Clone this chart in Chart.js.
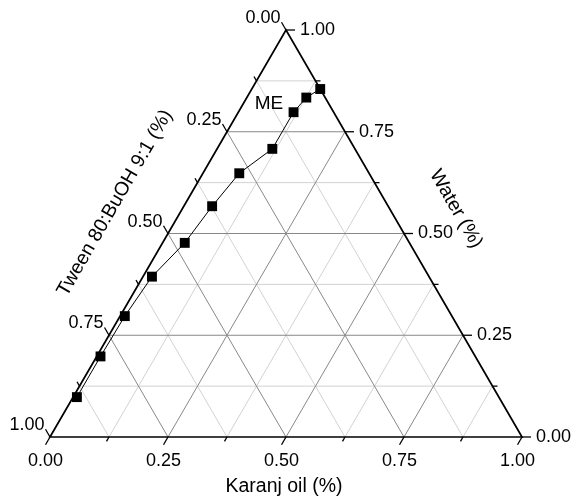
<!DOCTYPE html>
<html>
<head>
<meta charset="utf-8">
<script src="https://cdn.jsdelivr.net/npm/chart.js@4/dist/chart.umd.min.js"></script>
<style>
  html, body { margin: 0; padding: 0; background: #ffffff; }
  #wrap { width: 573px; height: 503px; }
</style>
</head>
<body>
<div id="wrap"><canvas id="c" width="573" height="503"></canvas></div>
<script>
// Phase boundary of the microemulsion (ME) region, as fractions
const oilFrac   = [0.145, 0.126, 0.117, 0.117, 0.077, 0.060, 0.047, 0.019, 0.010, 0.008, 0.008];
const waterFrac = [0.855, 0.834, 0.798, 0.708, 0.648, 0.567, 0.477, 0.394, 0.297, 0.198, 0.098];
const smixFrac  = [0.000, 0.040, 0.085, 0.175, 0.275, 0.373, 0.476, 0.587, 0.693, 0.794, 0.894];

// Axis ticks
const majorTicks = [0, 0.25, 0.5, 0.75, 1];
const majorTickLabels = ['0.00', '0.25', '0.50', '0.75', '1.00'];
const minorTicks = [0.125, 0.375, 0.625, 0.875];

const bottomTitle = 'Karanj oil (%)';
const rightTitle = 'Water (%)';
const leftTitle = 'Tween 80:BuOH 9:1 (%)';
const regionLabel = 'ME';

const S = Math.sqrt(3) / 2;
const FONT = '"Liberation Sans", Arial, Helvetica, sans-serif';

// Ternary (oil, water, smix) -> cartesian; oil runs along the base, water to the apex
function toXY(oil, water, smix) {
  const sum = oil + water + smix;
  const o = oil / sum, w = water / sum;
  return { x: o + w / 2, y: w * S };
}

const boundary = oilFrac.map((o, i) => toXY(o, waterFrac[i], smixFrac[i]));

// Points on each edge for a given axis value
const onBottom = v => toXY(v, 0, 1 - v);      // oil = v
const onRight  = v => toXY(1 - v, v, 0);      // water = v
const onLeft   = v => toXY(0, 1 - v, v);      // smix = v

const ternaryFrame = {
  id: 'ternaryFrame',
  beforeDatasetsDraw(chart) {
    const { ctx, scales: { x, y } } = chart;
    const px = p => [x.getPixelForValue(p.x), y.getPixelForValue(p.y)];
    const seg = (a, b, color, width) => {
      const A = px(a), B = px(b);
      ctx.beginPath();
      ctx.moveTo(A[0], A[1]);
      ctx.lineTo(B[0], B[1]);
      ctx.strokeStyle = color;
      ctx.lineWidth = width;
      ctx.stroke();
    };
    const gridLines = (vals, color) => {
      vals.forEach(v => {
        // constant water
        seg(toXY(0, v, 1 - v), toXY(1 - v, v, 0), color, 1);
        // constant oil
        seg(toXY(v, 0, 1 - v), toXY(v, 1 - v, 0), color, 1);
        // constant smix
        seg(toXY(0, 1 - v, v), toXY(1 - v, 0, v), color, 1);
      });
    };
    ctx.save();
    ctx.lineCap = 'butt';
    gridLines(minorTicks, '#d2d2d2');
    gridLines(majorTicks.filter(v => v > 0 && v < 1), '#888888');

    // Triangle frame
    const A = px(toXY(1, 0, 0)), B = px(toXY(0, 1, 0)), C = px(toXY(0, 0, 1));
    ctx.beginPath();
    ctx.moveTo(C[0], C[1]);
    ctx.lineTo(A[0], A[1]);
    ctx.lineTo(B[0], B[1]);
    ctx.closePath();
    ctx.strokeStyle = '#000000';
    ctx.lineWidth = 1.7;
    ctx.lineJoin = 'miter';
    ctx.stroke();

    // Ticks and tick labels
    const axes = [
      { at: onBottom, dir: [-0.5, S] },
      { at: onRight,  dir: [1, 0] },
      { at: onLeft,   dir: [-0.5, -S] }
    ];
    ctx.strokeStyle = '#000000';
    ctx.lineWidth = 1.3;
    ctx.fillStyle = '#000000';
    ctx.font = '18px ' + FONT;
    axes.forEach((ax, k) => {
      const tick = (v, len) => {
        const P = px(ax.at(v));
        const E = [P[0] + ax.dir[0] * len, P[1] + ax.dir[1] * len];
        ctx.beginPath();
        ctx.moveTo(P[0], P[1]);
        ctx.lineTo(E[0], E[1]);
        ctx.stroke();
        return E;
      };
      minorTicks.forEach(v => tick(v, 5));
      majorTicks.forEach((v, i) => {
        const E = tick(v, 9);
        const label = majorTickLabels[i];
        if (k === 0) {
          ctx.textAlign = 'center';
          ctx.textBaseline = 'middle';
          ctx.fillText(label, E[0], E[1] + 16);
        } else if (k === 1) {
          ctx.textAlign = 'left';
          ctx.textBaseline = 'middle';
          ctx.fillText(label, E[0] + 5, E[1]);
        } else {
          ctx.textAlign = 'right';
          ctx.textBaseline = 'middle';
          ctx.fillText(label, E[0] - 1, E[1] - 4);
        }
      });
    });

    // Axis titles
    ctx.font = '19.5px ' + FONT;
    ctx.textAlign = 'center';
    ctx.textBaseline = 'middle';
    ctx.fillText(bottomTitle, 284, 487);

    ctx.save();
    ctx.translate(456, 209);
    ctx.rotate(Math.PI / 3);
    ctx.fillText(rightTitle, 0, 0);
    ctx.restore();

    ctx.save();
    ctx.translate(115, 203);
    ctx.rotate(-Math.PI / 3);
    ctx.fillText(leftTitle, 0, 0);
    ctx.restore();

    // Region label
    ctx.font = '19px ' + FONT;
    ctx.fillText(regionLabel, 269, 104);
    ctx.restore();
  }
};

new Chart(document.getElementById('c'), {
  type: 'scatter',
  data: {
    datasets: [{
      label: 'ME boundary',
      data: boundary,
      showLine: true,
      borderColor: '#000000',
      borderWidth: 1,
      backgroundColor: '#000000',
      pointStyle: 'rect',
      pointRadius: 7,
      pointHoverRadius: 7,
      pointBorderWidth: 0,
      clip: false
    }]
  },
  options: {
    responsive: false,
    animation: false,
    events: [],
    layout: { padding: { left: 50, right: 51, top: 30, bottom: 66 } },
    plugins: { legend: { display: false }, tooltip: { enabled: false }, title: { display: false } },
    scales: {
      x: { type: 'linear', min: 0, max: 1, display: false },
      y: { type: 'linear', min: 0, max: S, display: false }
    }
  },
  plugins: [ternaryFrame]
});
</script>
</body>
</html>
